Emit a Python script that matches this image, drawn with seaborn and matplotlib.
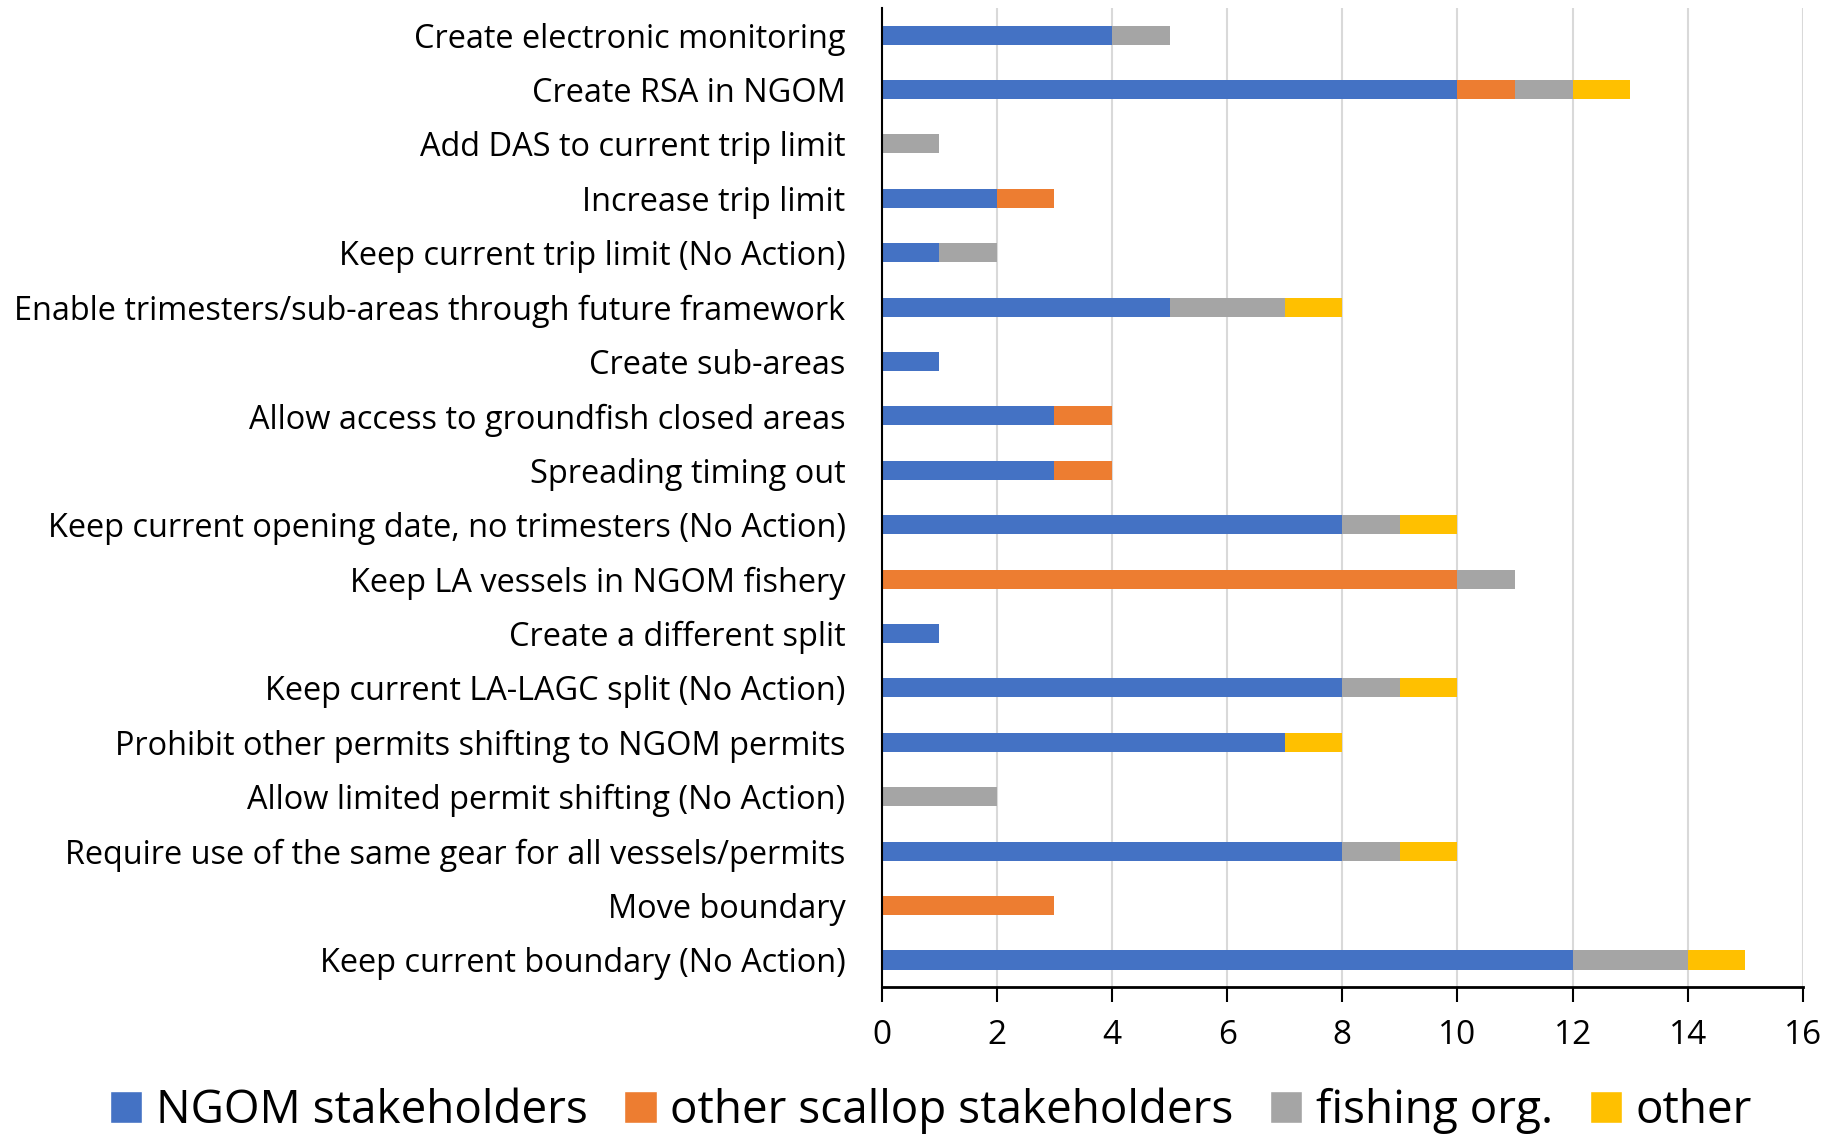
import matplotlib
matplotlib.use("Agg")
import matplotlib.pyplot as plt
from matplotlib import font_manager
from matplotlib.patches import Patch
import seaborn as sns
import pandas as pd
import numpy as np

# %%
categories = [
    "Create electronic monitoring",
    "Create RSA in NGOM",
    "Add DAS to current trip limit",
    "Increase trip limit",
    "Keep current trip limit (No Action)",
    "Enable trimesters/sub-areas through future framework",
    "Create sub-areas",
    "Allow access to groundfish closed areas",
    "Spreading timing out",
    "Keep current opening date, no trimesters (No Action)",
    "Keep LA vessels in NGOM fishery",
    "Create a different split",
    "Keep current LA-LAGC split (No Action)",
    "Prohibit other permits shifting to NGOM permits",
    "Allow limited permit shifting (No Action)",
    "Require use of the same gear for all vessels/permits",
    "Move boundary",
    "Keep current boundary (No Action)",
]
ngom =          [4, 10, 0, 2, 1, 5, 1, 3, 3, 8, 0, 1, 8, 7, 0, 8, 0, 12]
other_scallop = [0, 1, 0, 1, 0, 0, 0, 1, 1, 0, 10, 0, 0, 0, 0, 0, 3, 0]
fishing_org =   [1, 1, 1, 0, 1, 2, 0, 0, 0, 1, 1, 0, 1, 0, 2, 1, 0, 2]
other =         [0, 1, 0, 0, 0, 1, 0, 0, 0, 1, 0, 0, 1, 1, 0, 1, 0, 1]

series_names = ["NGOM stakeholders", "other scallop stakeholders", "fishing org.", "other"]
colors = ["#4472C4", "#ED7D31", "#A5A5A5", "#FFC000"]
x_ticks = [0, 2, 4, 6, 8, 10, 12, 14, 16]

# %%
available = {f.name for f in font_manager.fontManager.ttflist}
font = "Liberation Sans Narrow" if "Liberation Sans Narrow" in available else "Open Sans"

sns.set_style("white")
plt.rcParams["font.family"] = [font, "DejaVu Sans"]
plt.rcParams["text.color"] = "black"
plt.rcParams["xtick.color"] = "black"
plt.rcParams["ytick.color"] = "black"

df = pd.DataFrame({"category": categories, "s0": ngom, "s1": other_scallop,
                   "s2": fishing_org, "s3": other})
stack = df[["s0", "s1", "s2", "s3"]].cumsum(axis=1)

fig = plt.figure(figsize=(18.33, 11.36), dpi=100)
ax = fig.add_axes([0.481, 0.131, 0.5026, 0.862])

# draw cumulative totals from the back so they look stacked
for i in reversed(range(4)):
    sns.barplot(x=stack.iloc[:, i], y=df["category"], orient="h", color=colors[i],
                width=0.35, linewidth=0, saturation=1, ax=ax)

ax.set_xlim(0, 16)
ax.set_ylim(17.5, -0.5)
ax.set_xticks(x_ticks)
ax.set_xlabel("")
ax.set_ylabel("")
ax.xaxis.grid(True, color="#D9D9D9", linewidth=1.5)
ax.set_axisbelow(True)
for s in ["top", "right"]:
    ax.spines[s].set_visible(False)
ax.spines["left"].set_color("black")
ax.spines["left"].set_linewidth(1.5)
ax.spines["bottom"].set_color("black")
ax.spines["bottom"].set_linewidth(2)
ax.tick_params(axis="y", left=False, length=0, pad=26, labelsize=23.4)
ax.tick_params(axis="x", bottom=True, direction="out", length=11, width=1.5,
               color="black", pad=12, labelsize=24)

handles = [Patch(facecolor=c, label=n) for c, n in zip(colors, series_names)]
fig.legend(handles=handles, loc="center", bbox_to_anchor=(0.508, 0.022), ncol=4,
           frameon=False, fontsize=33, handlelength=0.7, handleheight=0.7,
           handletextpad=0.3, columnspacing=0.8)

fig.savefig("out.png", dpi=100)
